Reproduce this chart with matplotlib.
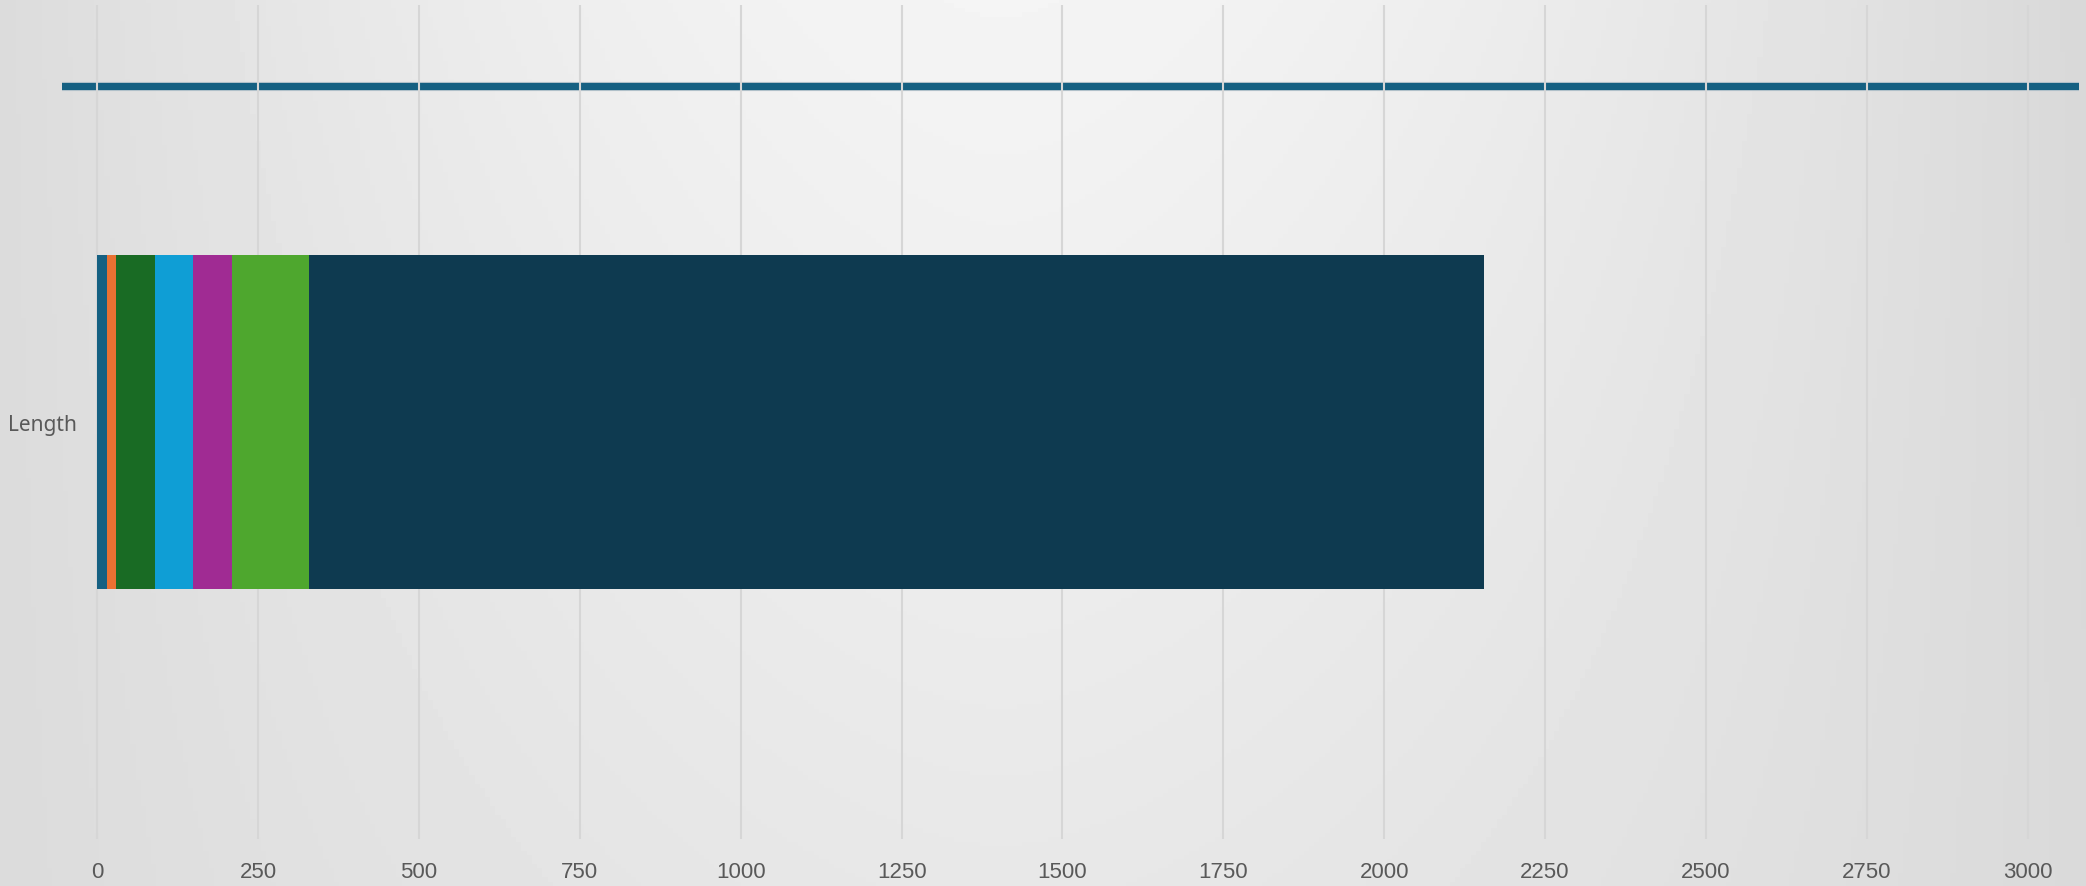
import numpy as np
import matplotlib
matplotlib.use("Agg")
import matplotlib.pyplot as plt
import matplotlib.patheffects as pe

# data
category = ["Length"]
series_names = ["Series 1", "Series 2", "Series 3", "Series 4", "Series 5", "Series 6", "Series 7"]
series_values = [15, 14, 60, 60, 60, 120, 1826]
series_colors = ["#156082", "#E97132", "#196B24", "#0F9ED5", "#A02B93", "#4EA72E", "#0E3A50"]
x_ticks = [0, 250, 500, 750, 1000, 1250, 1500, 1750, 2000, 2250, 2500, 2750, 3000]

fig = plt.figure(figsize=(20.86, 8.87), dpi=100)

# gray gradient background, light at top centre
bg = fig.add_axes([0, 0, 1, 1], zorder=-10)
gx, gy = np.meshgrid(np.linspace(0, 1, 400), np.linspace(0, 1, 200))
dx = np.abs(gx - 0.48) / 0.52
shade = 0.958 - 0.11 * dx ** 1.6 * (1 - 0.5 * gy) - 0.05 * gy
bg.imshow(shade, cmap="gray", vmin=0, vmax=1, aspect="auto", extent=[0, 1, 1, 0])
bg.set_xlim(0, 1)
bg.set_ylim(1, 0)
bg.axis("off")

ax = fig.add_axes([62 / 2086, 1 - 840 / 887, 2017 / 2086, 834 / 887])
ax.patch.set_alpha(0)

left = 0
for name, val, col in zip(series_names, series_values, series_colors):
    ax.barh(category, val, left=left, height=0.8, color=col, label=name, zorder=2)
    left += val

# thick line across the top of the plot area
ax.axhline(0.806, color="#156082", linewidth=5.2, zorder=0.3,
           path_effects=[pe.Stroke(linewidth=6.6, foreground="#c4ccd2"), pe.Normal()])

ax.set_xlim(-55, 3080)
ax.set_ylim(-1, 1)
ax.set_xticks(x_ticks)
ax.set_xticklabels([str(t) for t in x_ticks], family=["Liberation Sans", "DejaVu Sans"],
                   fontsize=16, color="#595959")
ax.tick_params(axis="x", length=0, pad=16)
ax.tick_params(axis="y", length=0, pad=-11, labelsize=15, labelcolor="#595959")
for lab in ax.get_yticklabels():
    lab.set_family(["Noto Sans", "DejaVu Sans"])

ax.grid(axis="x", color="#d6d6d6", linewidth=1.5, zorder=1)
ax.set_axisbelow(True)
for s in ax.spines.values():
    s.set_visible(False)

fig.savefig("out.png", dpi=100)
